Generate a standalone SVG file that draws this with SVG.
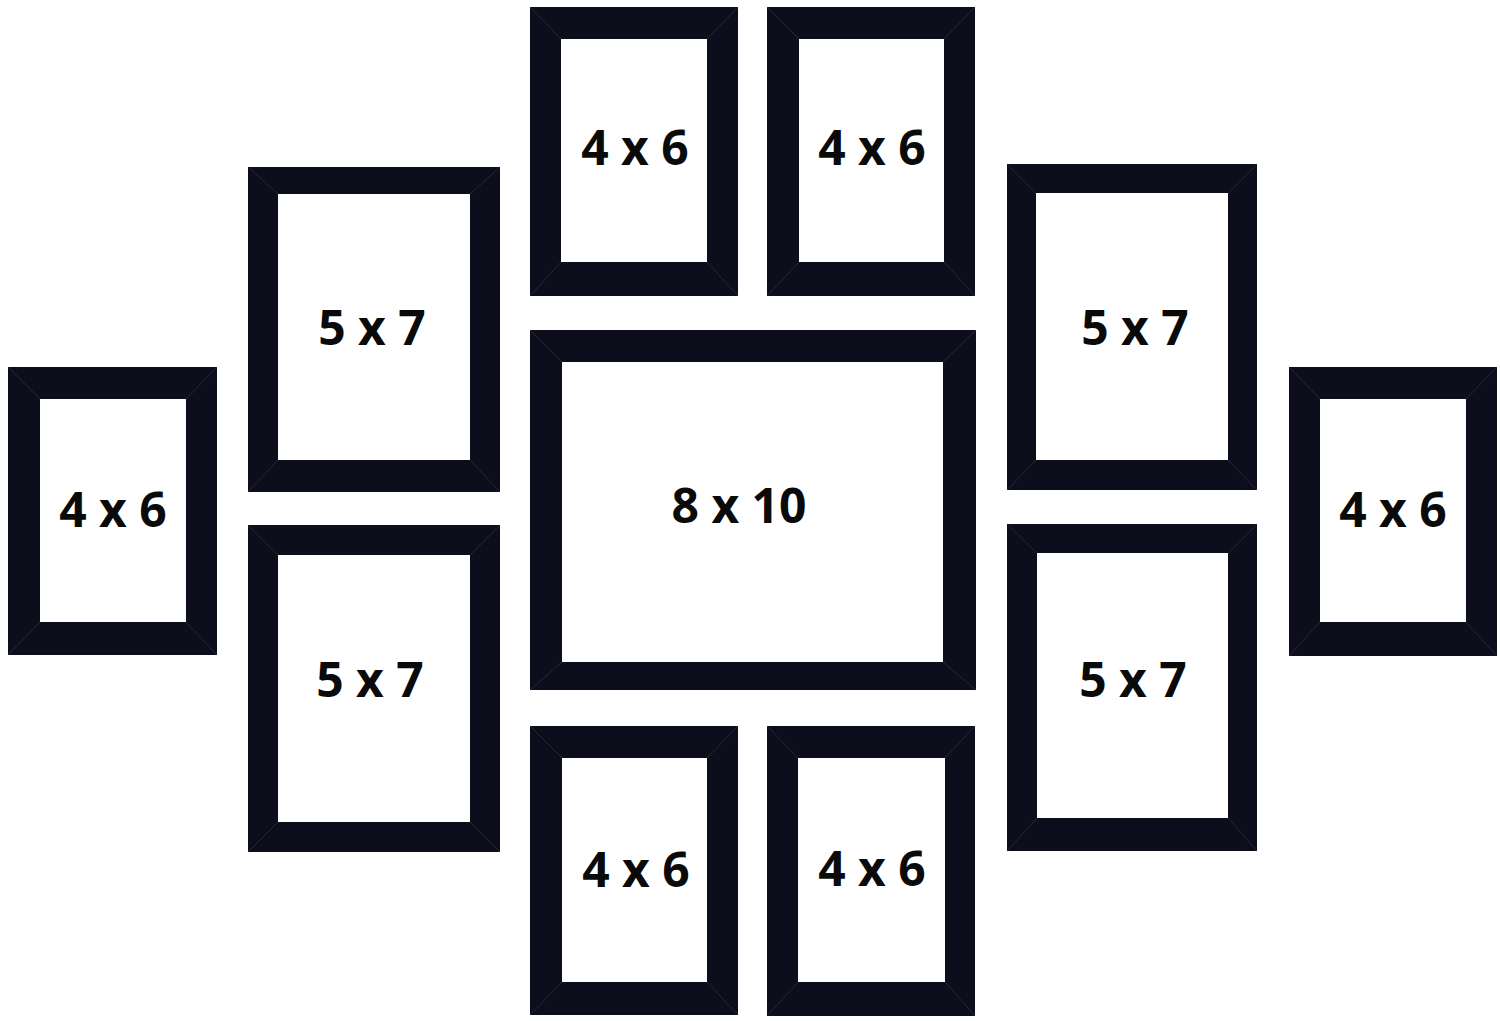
<svg xmlns="http://www.w3.org/2000/svg" width="1500" height="1021" viewBox="0 0 1500 1021">
<style>
.frame{fill:#0d0e1c}
.mat{fill:#ffffff}
.mitre{stroke:#262838;stroke-width:1;fill:none}
.lbl{font-family:"Open Sans","Noto Sans","Liberation Sans",sans-serif;font-weight:700;font-size:48px;fill:#0a0a0a;text-anchor:middle}
</style>
<rect width="1500" height="1021" fill="#ffffff"/>
<g id="f-top-left-4x6">
<rect class="frame" x="530" y="7" width="208" height="289"/>
<rect class="mat" x="561" y="39" width="146" height="223"/>
<path class="mitre" d="M530 7L561 39M738 7L707 39M530 296L561 262M738 296L707 262"/>
<text class="lbl" x="635" y="165">4 x 6</text>
</g>
<g id="f-top-right-4x6">
<rect class="frame" x="767" y="7" width="208" height="289"/>
<rect class="mat" x="799" y="39" width="145" height="223"/>
<path class="mitre" d="M767 7L799 39M975 7L944 39M767 296L799 262M975 296L944 262"/>
<text class="lbl" x="872" y="165">4 x 6</text>
</g>
<g id="f-left-top-5x7">
<rect class="frame" x="248" y="167" width="252" height="325"/>
<rect class="mat" x="278" y="194" width="192" height="266"/>
<path class="mitre" d="M248 167L278 194M500 167L470 194M248 492L278 460M500 492L470 460"/>
<text class="lbl" x="372" y="345">5 x 7</text>
</g>
<g id="f-left-bottom-5x7">
<rect class="frame" x="248" y="525" width="252" height="327"/>
<rect class="mat" x="278" y="555" width="192" height="267"/>
<path class="mitre" d="M248 525L278 555M500 525L470 555M248 852L278 822M500 852L470 822"/>
<text class="lbl" x="370" y="697">5 x 7</text>
</g>
<g id="f-left-4x6">
<rect class="frame" x="8" y="367" width="209" height="288"/>
<rect class="mat" x="40" y="399" width="146" height="223"/>
<path class="mitre" d="M8 367L40 399M217 367L186 399M8 655L40 622M217 655L186 622"/>
<text class="lbl" x="113" y="527">4 x 6</text>
</g>
<g id="f-center-8x10">
<rect class="frame" x="530" y="330" width="446" height="360"/>
<rect class="mat" x="562" y="362" width="381" height="300"/>
<path class="mitre" d="M530 330L562 362M976 330L943 362M530 690L562 662M976 690L943 662"/>
<text class="lbl" x="739" y="523">8 x 10</text>
</g>
<g id="f-right-top-5x7">
<rect class="frame" x="1007" y="164" width="250" height="326"/>
<rect class="mat" x="1036" y="193" width="192" height="267"/>
<path class="mitre" d="M1007 164L1036 193M1257 164L1228 193M1007 490L1036 460M1257 490L1228 460"/>
<text class="lbl" x="1135" y="345">5 x 7</text>
</g>
<g id="f-right-bottom-5x7">
<rect class="frame" x="1007" y="524" width="250" height="327"/>
<rect class="mat" x="1037" y="553" width="191" height="265"/>
<path class="mitre" d="M1007 524L1037 553M1257 524L1228 553M1007 851L1037 818M1257 851L1228 818"/>
<text class="lbl" x="1133" y="697">5 x 7</text>
</g>
<g id="f-right-4x6">
<rect class="frame" x="1289" y="367" width="208" height="289"/>
<rect class="mat" x="1320" y="399" width="146" height="223"/>
<path class="mitre" d="M1289 367L1320 399M1497 367L1466 399M1289 656L1320 622M1497 656L1466 622"/>
<text class="lbl" x="1393" y="527">4 x 6</text>
</g>
<g id="f-bottom-left-4x6">
<rect class="frame" x="530" y="726" width="208" height="289"/>
<rect class="mat" x="562" y="758" width="145" height="224"/>
<path class="mitre" d="M530 726L562 758M738 726L707 758M530 1015L562 982M738 1015L707 982"/>
<text class="lbl" x="636" y="887">4 x 6</text>
</g>
<g id="f-bottom-right-4x6">
<rect class="frame" x="767" y="726" width="208" height="290"/>
<rect class="mat" x="798" y="758" width="147" height="224"/>
<path class="mitre" d="M767 726L798 758M975 726L945 758M767 1016L798 982M975 1016L945 982"/>
<text class="lbl" x="872" y="886">4 x 6</text>
</g>
<g id="connectors"></g>
</svg>
